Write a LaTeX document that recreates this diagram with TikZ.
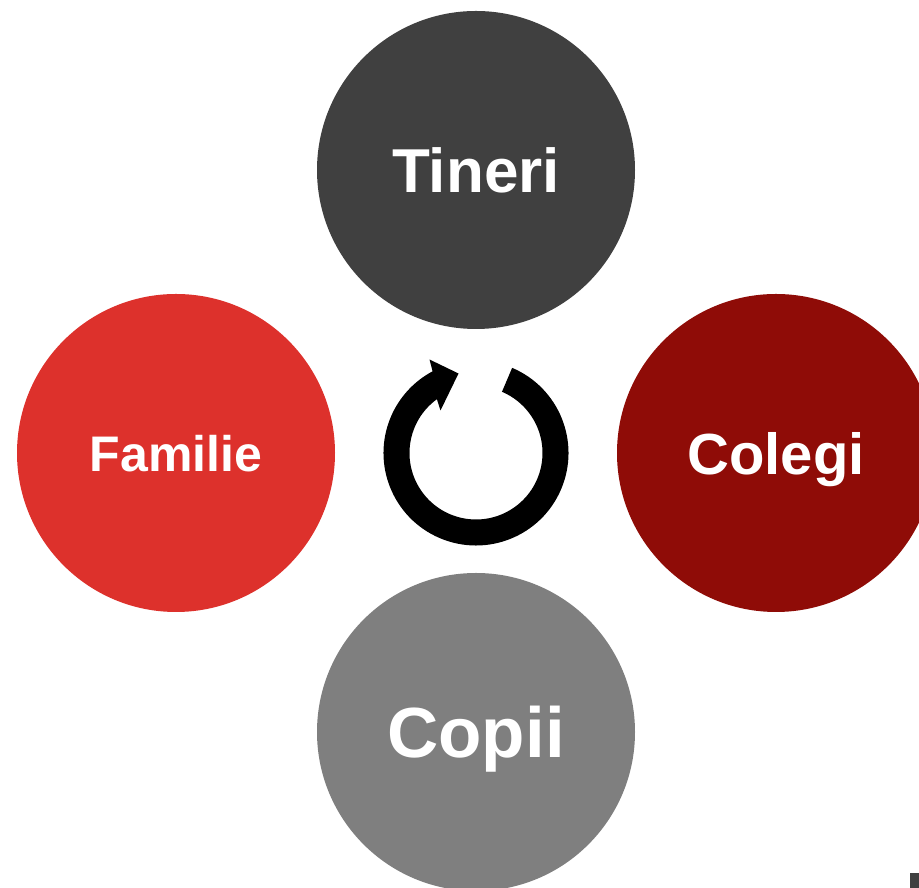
\documentclass[tikz,border=0pt]{standalone}
\usepackage{fontspec}
\setmainfont{Liberation Sans}
\usetikzlibrary{positioning}
\definecolor{tinerigray}{HTML}{404040}
\definecolor{familiered}{HTML}{DD312C}
\definecolor{colegired}{HTML}{8F0C07}
\definecolor{copiigray}{HTML}{7F7F7F}
\newcommand\ringsize{318pt}
\newcommand\sidegap{300pt}
\newcommand\groupfont[1]{\bfseries\fontsize{#1}{#1}\selectfont}
\tikzstyle{group} = [circle, minimum size=\ringsize, inner sep=0pt, text=white, text depth=0pt]

\begin{document}
\begin{tikzpicture}[x=1pt, y=1pt, node distance=\sidegap]
\useasboundingbox (0,0) rectangle (919,888);
\clip (0,0) rectangle (919,888);

            \coordinate (hub) at (476,435);
            \node (tineri) [group, fill=tinerigray, above of=hub, node distance=283pt]{\groupfont{62}Tineri};
            \node (familie) [group, fill=familiered, left of=hub]{\groupfont{50}Familie};
            \node (colegi) [group, fill=colegired, right of=hub]{\groupfont{58}Colegi};
            \node (copii) [group, fill=copiigray, below of=hub, node distance=279pt]{\groupfont{71}Copii};

            % cycle arrow in the middle
            \begin{scope}[shift={(0.5,0.5)}, shift={(hub)}]
            \fill[black] (67:92.5) arc[start angle=67, end angle=-242, radius=92.5] -- (-46.5,93.5) -- (-17.5,79.5) -- (-35.5,42.5) -- (-234:66.5) arc[start angle=-234, end angle=67, radius=66.5] -- cycle;
            \end{scope}

            \fill[tinerigray] (910,0) rectangle (919,15);

        \end{tikzpicture}
\end{document}
